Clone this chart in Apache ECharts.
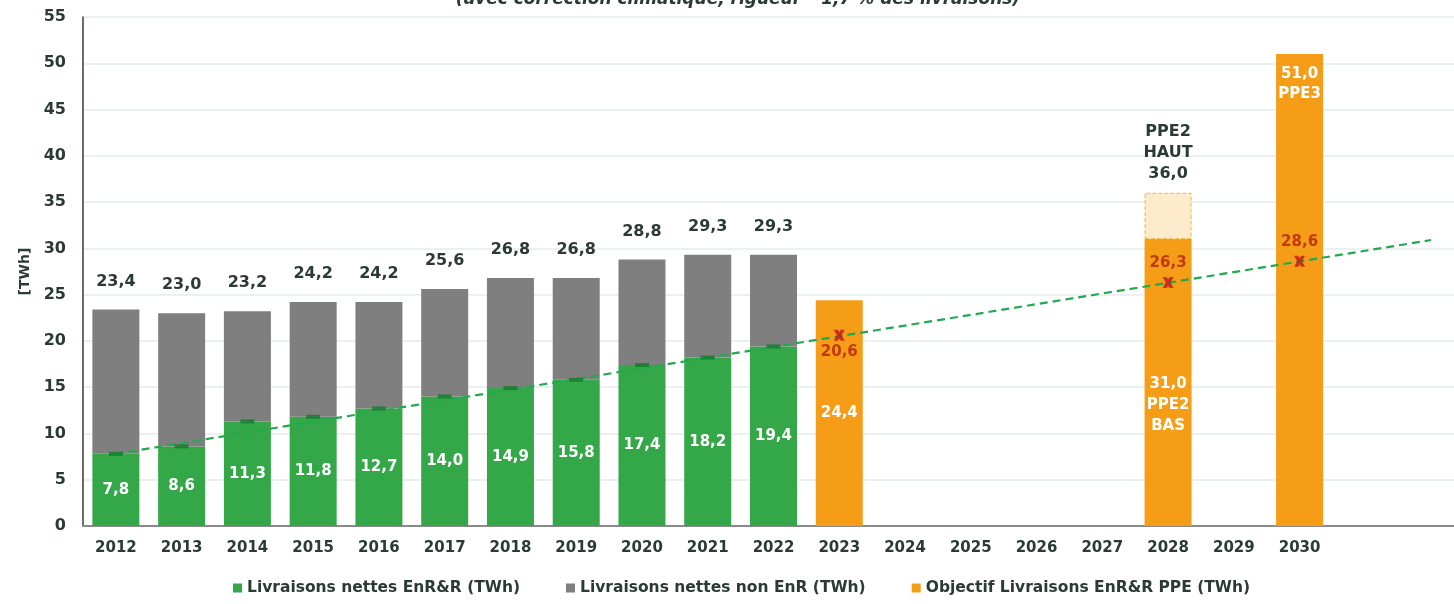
<!DOCTYPE html>
<html>
<head>
<meta charset="utf-8">
<script src="https://cdn.jsdelivr.net/npm/echarts@6/dist/echarts.min.js"></script>
<style>
  html, body { margin: 0; padding: 0; background: #fff; }
  #chart { width: 1454px; height: 604px; }
</style>
</head>
<body>
<div id="chart"></div>
<script>
// years on the x axis (two blank slots on the right for the trend line end)
const years = ["2012", "2013", "2014", "2015", "2016", "2017", "2018", "2019", "2020", "2021",
  "2022", "2023", "2024", "2025", "2026", "2027", "2028", "2029", "2030", "", ""];

// EnR&R deliveries (green) and total deliveries (label above the bar)
const enr = [7.8, 8.6, 11.3, 11.8, 12.7, 14.0, 14.9, 15.8, 17.4, 18.2, 19.4];
const totals = [23.4, 23.0, 23.2, 24.2, 24.2, 25.6, 26.8, 26.8, 28.8, 29.3, 29.3];

// PPE objectives (orange)
const objYears = ["2023", "2028", "2030"];
const objValues = [24.4, 31.0, 51.0];
const objHaut = 36.0; // PPE2 haut for 2028

// trend line end points and the marked points on it
const trendValues = [7.8, 30.9];
const markYears = ["2023", "2028", "2030"];
const markValues = [20.6, 26.3, 28.6];

const dark = "#2c3a36";
const fontFamily = "'DejaVu Sans', sans-serif";
const fmt = v => v.toFixed(1).replace(".", ",");

let chart = echarts.init(document.getElementById("chart"));

let n = years.length;
let greenData = years.map((y, i) => (i < enr.length ? enr[i] : null));
let greyData = years.map((y, i) => (i < totals.length ? +(totals[i] - enr[i]).toFixed(1) : null));
let orangeData = years.map(y => {
  let k = objYears.indexOf(y);
  if (k < 0) return null;
  let item = { value: objValues[k] };
  if (y === "2028") {
    item.label = {
      formatter: fmt(objValues[k]) + "\nPPE2\nBAS",
      offset: [0, 23],
      lineHeight: 21
    };
  } else if (y === "2030") {
    item.label = {
      position: "insideTop",
      formatter: fmt(objValues[k]) + "\nPPE3",
      distance: 10,
      lineHeight: 20
    };
  }
  return item;
});
let hautData = years.map(y => (y === "2028" ? +(objHaut - objValues[1]).toFixed(1) : null));
// the trend line has two ends, 2012 and the last (blank) slot
let trendData = years.map(() => null);
trendData[0] = trendValues[0];
trendData[n - 1] = trendValues[1];
let markData = years.map(y => {
  let k = markYears.indexOf(y);
  if (k < 0) return null;
  return {
    value: markValues[k],
    label: { position: y === "2023" ? "bottom" : "top", distance: y === "2023" ? 4 : 6 }
  };
});

let option = {
  animation: false,
  title: {
    text: "(avec correction climatique, rigueur ~1,7 % des livraisons)",
    left: 733,
    textAlign: "center",
    top: -14,
    textStyle: { fontFamily, fontSize: 17, fontWeight: "bold", fontStyle: "italic", color: dark }
  },
  grid: {
    left: 83,
    width: 1381,
    top: 17,
    bottom: 78,
    outerBoundsMode: "none"
  },
  legend: {
    bottom: 3,
    left: 228,
    icon: "rect",
    itemWidth: 9,
    itemHeight: 9,
    itemGap: 46,
    data: ["Livraisons nettes EnR&R (TWh)", "Livraisons nettes non EnR (TWh)", "Objectif Livraisons EnR&R PPE (TWh)"],
    textStyle: { fontFamily, fontSize: 15.5, fontWeight: "bold", color: dark }
  },
  xAxis: {
    type: "category",
    data: years,
    axisTick: { show: false },
    axisLine: { lineStyle: { color: "#8a8a8a", width: 2 } },
    axisLabel: { fontFamily, fontSize: 15, fontWeight: "bold", color: dark, margin: 15, interval: 0 }
  },
  yAxis: {
    type: "value",
    min: 0,
    max: 55,
    interval: 5,
    name: "[TWh]",
    nameLocation: "middle",
    nameRotate: 90,
    nameGap: 48,
    nameTextStyle: { fontFamily, fontSize: 14, fontWeight: "bold", color: dark },
    axisLine: { show: true, lineStyle: { color: "#3a3a3a", width: 1.5 } },
    axisLabel: { fontFamily, fontSize: 16, fontWeight: "bold", color: dark, margin: 17 },
    splitLine: { lineStyle: { color: "#e4eded", width: 1.5 } }
  },
  series: [
    {
      name: "Livraisons nettes EnR&R (TWh)",
      type: "bar",
      stack: "a",
      barWidth: 47,
      itemStyle: { color: "#34a848" },
      label: {
        show: true,
        position: "inside",
        formatter: p => fmt(p.value),
        fontFamily, fontSize: 15, fontWeight: "bold", color: "#fff"
      },
      data: greenData
    },
    {
      name: "Livraisons nettes non EnR (TWh)",
      type: "bar",
      stack: "a",
      barWidth: 47,
      itemStyle: { color: "#7f7f7f" },
      label: {
        show: true,
        position: "top",
        distance: 20,
        formatter: p => fmt(totals[p.dataIndex]),
        fontFamily, fontSize: 16, fontWeight: "bold", color: dark
      },
      data: greyData
    },
    {
      name: "Objectif Livraisons EnR&R PPE (TWh)",
      type: "bar",
      stack: "a",
      barWidth: 47,
      itemStyle: { color: "#f59d17" },
      label: {
        show: true,
        position: "inside",
        formatter: p => fmt(p.value),
        fontFamily, fontSize: 15, fontWeight: "bold", color: "#fff"
      },
      data: orangeData
    },
    {
      name: "PPE2 haut",
      type: "bar",
      stack: "a",
      barWidth: 47,
      itemStyle: { color: "#fdebcb", borderColor: "#f5b443", borderWidth: 1, borderType: "dashed" },
      label: {
        show: true,
        position: "top",
        distance: 8,
        formatter: "PPE2\nHAUT\n" + fmt(objHaut),
        lineHeight: 21,
        fontFamily, fontSize: 16, fontWeight: "bold", color: dark
      },
      data: hautData
    },
    {
      name: "Tendance",
      type: "line",
      connectNulls: true,
      symbol: "none",
      lineStyle: { color: "#22a94f", width: 2.2, type: [8, 5] },
      z: 5,
      data: trendData
    },
    {
      name: "Repère EnR",
      type: "scatter",
      symbol: "rect",
      symbolSize: [14, 4],
      itemStyle: { color: "#137a2b" },
      z: 6,
      data: greenData
    },
    {
      name: "Point tendance",
      type: "scatter",
      symbol: "path://M0,0 L3.6,0 L5,2 L6.4,0 L10,0 L7.2,5 L10,10 L6.4,10 L5,8 L3.6,10 L0,10 L2.8,5 Z",
      symbolSize: 11,
      itemStyle: { color: "#c4161c" },
      z: 7,
      label: {
        show: true,
        formatter: p => fmt(p.value),
        fontFamily, fontSize: 15, fontWeight: "bold", color: "#b3200e"
      },
      data: markData
    }
  ]
};

chart.setOption(option, true);
window.addEventListener("resize", () => {
  chart.resize();
});
</script>
</body>
</html>
